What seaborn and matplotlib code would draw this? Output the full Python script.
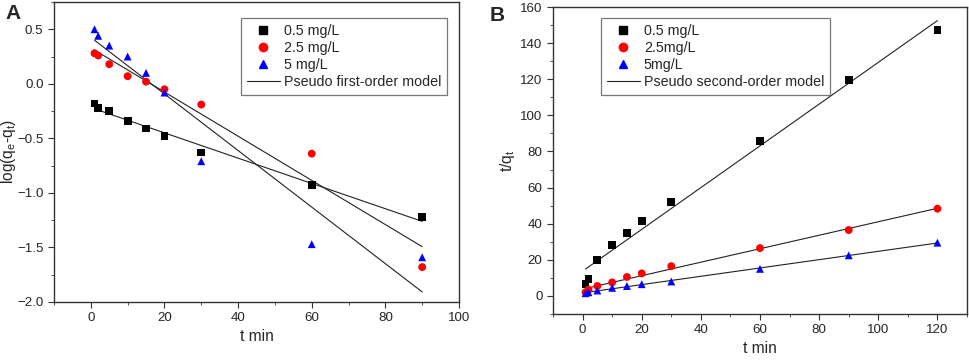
import matplotlib.pyplot as plt
import seaborn as sns
import numpy as np
from matplotlib.ticker import MultipleLocator
from matplotlib.lines import Line2D

# panel A data (pseudo first-order)
tA = [1, 2, 5, 10, 15, 20, 30, 60, 90]
logA_05 = [-0.18, -0.22, -0.25, -0.34, -0.41, -0.48, -0.63, -0.93, -1.22]
logA_25 = [0.28, 0.26, 0.18, 0.07, 0.02, -0.05, -0.19, -0.64, -1.68]
logA_5 = [0.50, 0.44, 0.35, 0.25, 0.10, -0.08, -0.71, -1.47, -1.59]

# panel B data (pseudo second-order)
tB = [1, 2, 5, 10, 15, 20, 30, 60, 90, 120]
tq_05 = [6.5, 9.5, 20.0, 28.0, 35.0, 41.5, 52.0, 86.0, 119.5, 147.5]
tq_25 = [2.0, 3.5, 5.5, 7.5, 10.5, 12.5, 16.5, 26.5, 36.5, 48.3]
tq_5 = [1.5, 2.0, 3.0, 4.5, 5.5, 6.5, 8.0, 15.0, 22.5, 29.5]

labelsA = ['0.5 mg/L', '2.5 mg/L', '5 mg/L']
labelsB = ['0.5 mg/L', '2.5mg/L', '5mg/L']

sns.set_style('ticks')
plt.rcParams['font.family'] = ['Liberation Sans', 'DejaVu Sans']
plt.rcParams['mathtext.fontset'] = 'custom'
plt.rcParams['mathtext.rm'] = 'Liberation Sans'
plt.rcParams['mathtext.it'] = 'Liberation Sans'

colors = ['black', 'red', 'blue']
markers = ['s', 'o', '^']

fig = plt.figure(figsize=(9.69, 3.61), dpi=100)
axA = fig.add_axes([54/969, 1-302/361, (459-54)/969, (302-2)/361])
axB = fig.add_axes([553/969, 1-314/361, (967-553)/969, (314-7)/361])


def draw(ax, x, series, labels, model_label):
    handles = []
    for y, c, m, lab in zip(series, colors, markers, labels):
        sns.scatterplot(x=x, y=y, ax=ax, color=c, marker=m, s=32, edgecolor='none', zorder=3)
        k, b = np.polyfit(x, y, 1)
        xf = np.array([min(x), max(x)])
        sns.lineplot(x=xf, y=k*xf+b, ax=ax, color='#222222', lw=0.8, zorder=2)
        handles.append(Line2D([], [], ls='none', marker=m, color=c, markersize=6, label=lab))
    handles.append(Line2D([], [], color='#222222', lw=0.8, label=model_label))
    leg = ax.legend(handles=handles, fontsize=10.3, frameon=True, fancybox=False,
                    handlelength=2.3, handletextpad=0.3, labelspacing=0.22,
                    borderpad=0.4, borderaxespad=0)
    leg.get_frame().set_edgecolor('#555555')
    leg.get_frame().set_linewidth(0.9)
    for sp in ax.spines.values():
        sp.set_color('#333333')
        sp.set_linewidth(1.0)
    ax.tick_params(which='both', direction='out', top=False, right=False, labelsize=9.6, color='#333333')
    ax.tick_params(which='major', length=4)
    ax.tick_params(which='minor', length=2.5)
    return leg


legA = draw(axA, tA, [logA_05, logA_25, logA_5], labelsA, 'Pseudo first-order model')
legA.set_bbox_to_anchor((447/969, 1-18/361), transform=fig.transFigure)
legA._loc = 1
axA.set_xlim(-10, 100)
axA.set_ylim(-2.0, 0.75)
axA.xaxis.set_major_locator(MultipleLocator(20))
axA.xaxis.set_minor_locator(MultipleLocator(10))
axA.yaxis.set_major_locator(MultipleLocator(0.5))
axA.yaxis.set_minor_locator(MultipleLocator(0.25))
axA.set_xlabel('t min', fontsize=11.2, labelpad=3)
axA.set_ylabel(r'log(q$_\mathrm{e}$-q$_\mathrm{t}$)', fontsize=11.2)
axA.yaxis.set_label_coords(-0.089, 0.5)

legB = draw(axB, tB, [tq_05, tq_25, tq_5], labelsB, 'Pseudo second-order model')
legB.set_bbox_to_anchor((601/969, 1-18/361), transform=fig.transFigure)
legB._loc = 2
axB.set_xlim(-10, 130)
axB.set_ylim(-10, 160)
axB.xaxis.set_major_locator(MultipleLocator(20))
axB.xaxis.set_minor_locator(MultipleLocator(10))
axB.yaxis.set_major_locator(MultipleLocator(20))
axB.yaxis.set_minor_locator(MultipleLocator(10))
axB.set_xlabel('t min', fontsize=11.2, labelpad=3)
axB.set_ylabel(r't/q$_\mathrm{t}$', fontsize=11.2)
axB.yaxis.set_label_coords(-0.087, 0.5)

fig.text(5/969, 1-4/361, 'A', fontsize=15, fontweight='bold', va='top', ha='left')
fig.text(490/969, 1-6/361, 'B', fontsize=15, fontweight='bold', va='top', ha='left')

fig.savefig('out.png', dpi=100)
